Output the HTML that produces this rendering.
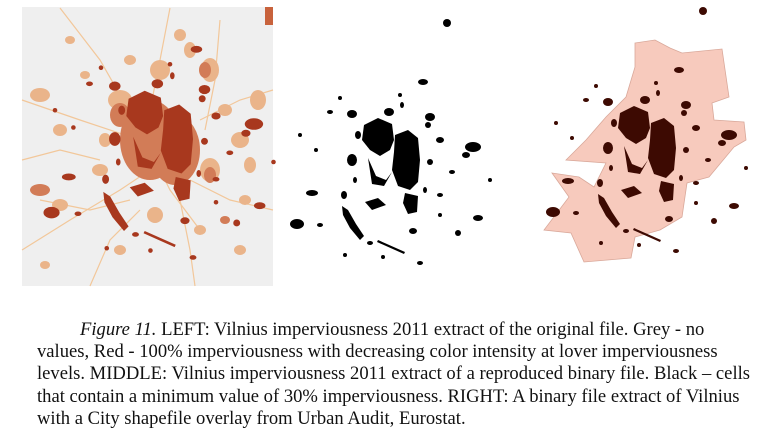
<!DOCTYPE html>
<html><head><meta charset="utf-8">
<style>
html,body{margin:0;padding:0;background:#fff;}
body{width:768px;height:441px;position:relative;overflow:hidden;}
svg{position:absolute;left:0;top:0;}
.cap{position:absolute;left:0;top:319px;width:768px;font-family:"Liberation Serif",serif;font-size:18.6px;color:#111;line-height:22.2px;}
.cap div{white-space:nowrap;padding-left:37px;}
.cap div.first{padding-left:80px;}
</style></head>
<body>
<svg width="768" height="300" viewBox="0 0 768 300">
<defs>
<g id="blobs">
<path d="M364,125 L378,118 L392,124 L394,140 L390,150 L380,156 L370,150 L362,140 Z"/>
<path d="M395,135 L408,130 L418,138 L420,160 L418,182 L410,190 L398,186 L392,170 L394,152 Z"/>
<path d="M368,158 L376,176 L386,180 L392,172 L384,186 L372,184 Z"/>
<path d="M405,193 L418,196 L417,212 L408,214 L403,203 Z"/>
<path d="M342,206 L348,210 L356,224 L364,236 L360,240 L350,228 L343,215 Z"/>
<path d="M365,202 L378,198 L386,205 L372,210 Z"/>
<ellipse cx="352" cy="160" rx="5" ry="6"/>
<ellipse cx="297" cy="224" rx="7" ry="5"/>
<ellipse cx="312" cy="193" rx="6" ry="3"/>
<ellipse cx="473" cy="147" rx="8" ry="5"/>
<ellipse cx="478" cy="218" rx="5" ry="3"/>
<ellipse cx="458" cy="233" rx="3" ry="3"/>
<ellipse cx="413" cy="231" rx="4" ry="3"/>
<ellipse cx="389" cy="112" rx="5" ry="4"/>
<ellipse cx="352" cy="114" rx="5" ry="4"/>
<ellipse cx="430" cy="117" rx="5" ry="4"/>
<ellipse cx="423" cy="82" rx="5" ry="3"/>
<ellipse cx="344" cy="195" rx="3" ry="4"/>
<ellipse cx="440" cy="195" rx="3" ry="2"/>
<ellipse cx="430" cy="162" rx="3" ry="3"/>
<ellipse cx="370" cy="243" rx="3" ry="2"/>
<path d="M378,240 L405,252 L404,254 L377,242 Z"/>
<ellipse cx="420" cy="263" rx="3" ry="2"/>
<ellipse cx="300" cy="135" rx="2" ry="2"/>
<ellipse cx="447" cy="23" rx="4" ry="4"/>
<ellipse cx="330" cy="112" rx="3" ry="2"/>
<ellipse cx="452" cy="172" rx="3" ry="2"/>
<ellipse cx="340" cy="98" rx="2" ry="2"/>
<ellipse cx="402" cy="105" rx="2" ry="3"/>
<ellipse cx="428" cy="125" rx="3" ry="3"/>
<ellipse cx="440" cy="140" rx="4" ry="3"/>
<ellipse cx="466" cy="155" rx="4" ry="3"/>
<ellipse cx="358" cy="135" rx="3" ry="4"/>
<ellipse cx="355" cy="180" rx="2" ry="3"/>
<ellipse cx="320" cy="225" rx="3" ry="2"/>
<ellipse cx="440" cy="215" rx="2" ry="2"/>
<ellipse cx="425" cy="190" rx="2" ry="3"/>
<ellipse cx="345" cy="255" rx="2" ry="2"/>
<ellipse cx="383" cy="257" rx="2" ry="2"/>
<ellipse cx="316" cy="150" rx="2" ry="2"/>
<ellipse cx="490" cy="180" rx="2" ry="2"/>
<ellipse cx="400" cy="95" rx="2" ry="2"/>
</g>
</defs>
<g>
<rect x="22" y="7" width="251" height="279" fill="#efefef"/>
<g stroke="#f2c79a" stroke-width="1.2" fill="none">
<path d="M60,8 L100,60 L140,130 L170,190 L200,230"/>
<path d="M170,8 L160,60 L150,110"/>
<path d="M22,100 L80,120 L140,140"/>
<path d="M22,250 L70,220 L120,190 L150,170"/>
<path d="M190,180 L230,200 L273,210"/>
<path d="M200,120 L240,100 L273,90"/>
<path d="M180,200 L190,250 L195,286"/>
<path d="M40,200 L90,210 L130,200"/>
<path d="M220,20 L215,80 L205,130"/>
<path d="M22,160 L60,150 L100,160"/>
<path d="M90,286 L110,240 L140,210"/>
</g>
<g fill="#eab48a">
<ellipse cx="210" cy="70" rx="9" ry="12"/><ellipse cx="190" cy="50" rx="6" ry="8"/>
<ellipse cx="120" cy="100" rx="12" ry="10"/><ellipse cx="105" cy="140" rx="6" ry="7"/>
<ellipse cx="40" cy="95" rx="10" ry="7"/><ellipse cx="60" cy="130" rx="7" ry="6"/>
<ellipse cx="210" cy="170" rx="10" ry="12"/><ellipse cx="240" cy="140" rx="9" ry="8"/>
<ellipse cx="60" cy="205" rx="8" ry="6"/><ellipse cx="155" cy="215" rx="8" ry="8"/>
<ellipse cx="200" cy="230" rx="6" ry="5"/><ellipse cx="160" cy="70" rx="10" ry="10"/>
<ellipse cx="100" cy="170" rx="8" ry="6"/><ellipse cx="130" cy="60" rx="6" ry="5"/>
<ellipse cx="258" cy="100" rx="8" ry="10"/><ellipse cx="225" cy="110" rx="7" ry="6"/>
<ellipse cx="245" cy="200" rx="6" ry="5"/><ellipse cx="85" cy="75" rx="5" ry="4"/>
<ellipse cx="180" cy="35" rx="6" ry="6"/><ellipse cx="120" cy="250" rx="6" ry="5"/>
<ellipse cx="45" cy="265" rx="5" ry="4"/><ellipse cx="240" cy="250" rx="6" ry="5"/>
<ellipse cx="250" cy="165" rx="6" ry="8"/><ellipse cx="70" cy="40" rx="5" ry="4"/>
</g>
<g fill="#d27c57">
<ellipse cx="150" cy="140" rx="30" ry="40"/><ellipse cx="175" cy="150" rx="25" ry="35"/>
<ellipse cx="120" cy="115" rx="10" ry="12"/><ellipse cx="205" cy="70" rx="6" ry="8"/>
<ellipse cx="40" cy="190" rx="10" ry="6"/><ellipse cx="225" cy="220" rx="5" ry="4"/>
<ellipse cx="210" cy="175" rx="6" ry="8"/>
</g>
<g fill="#a8381e" transform="translate(-290,-45) scale(1.15)">
<use href="#blobs"/>
</g>
<rect x="265" y="7" width="8" height="18" fill="#c8623c"/>
</g>
<g fill="#000">
<use href="#blobs"/>
</g>
<g>
<polygon fill="#f7cabd" stroke="#d9a89a" stroke-width="0.8" points="635,43 655,40 670,48 682,53 722,49 729,97 712,103 714,120 744,122 746,140 734,147 709,177 687,183 682,217 660,230 635,237 631,258 584,262 571,233 544,230 569,197 552,173 579,177 594,187 606,163 566,160 586,140 606,117 626,97 635,67"/>
<g fill="#3d0a02" transform="translate(256,-12)">
<use href="#blobs"/>
</g>
</g>
</svg>
<div class="cap">
<div class="first"><i>Figure 11.</i> LEFT: Vilnius imperviousness 2011 extract of the original file. Grey - no</div>
<div>values, Red - 100% imperviousness with decreasing color intensity at lover imperviousness</div>
<div>levels. MIDDLE: Vilnius imperviousness 2011 extract of a reproduced binary file. Black – cells</div>
<div>that contain a minimum value of 30% imperviousness. RIGHT: A binary file extract of Vilnius</div>
<div>with a City shapefile overlay from Urban Audit, Eurostat.</div>
</div>
</body></html>
